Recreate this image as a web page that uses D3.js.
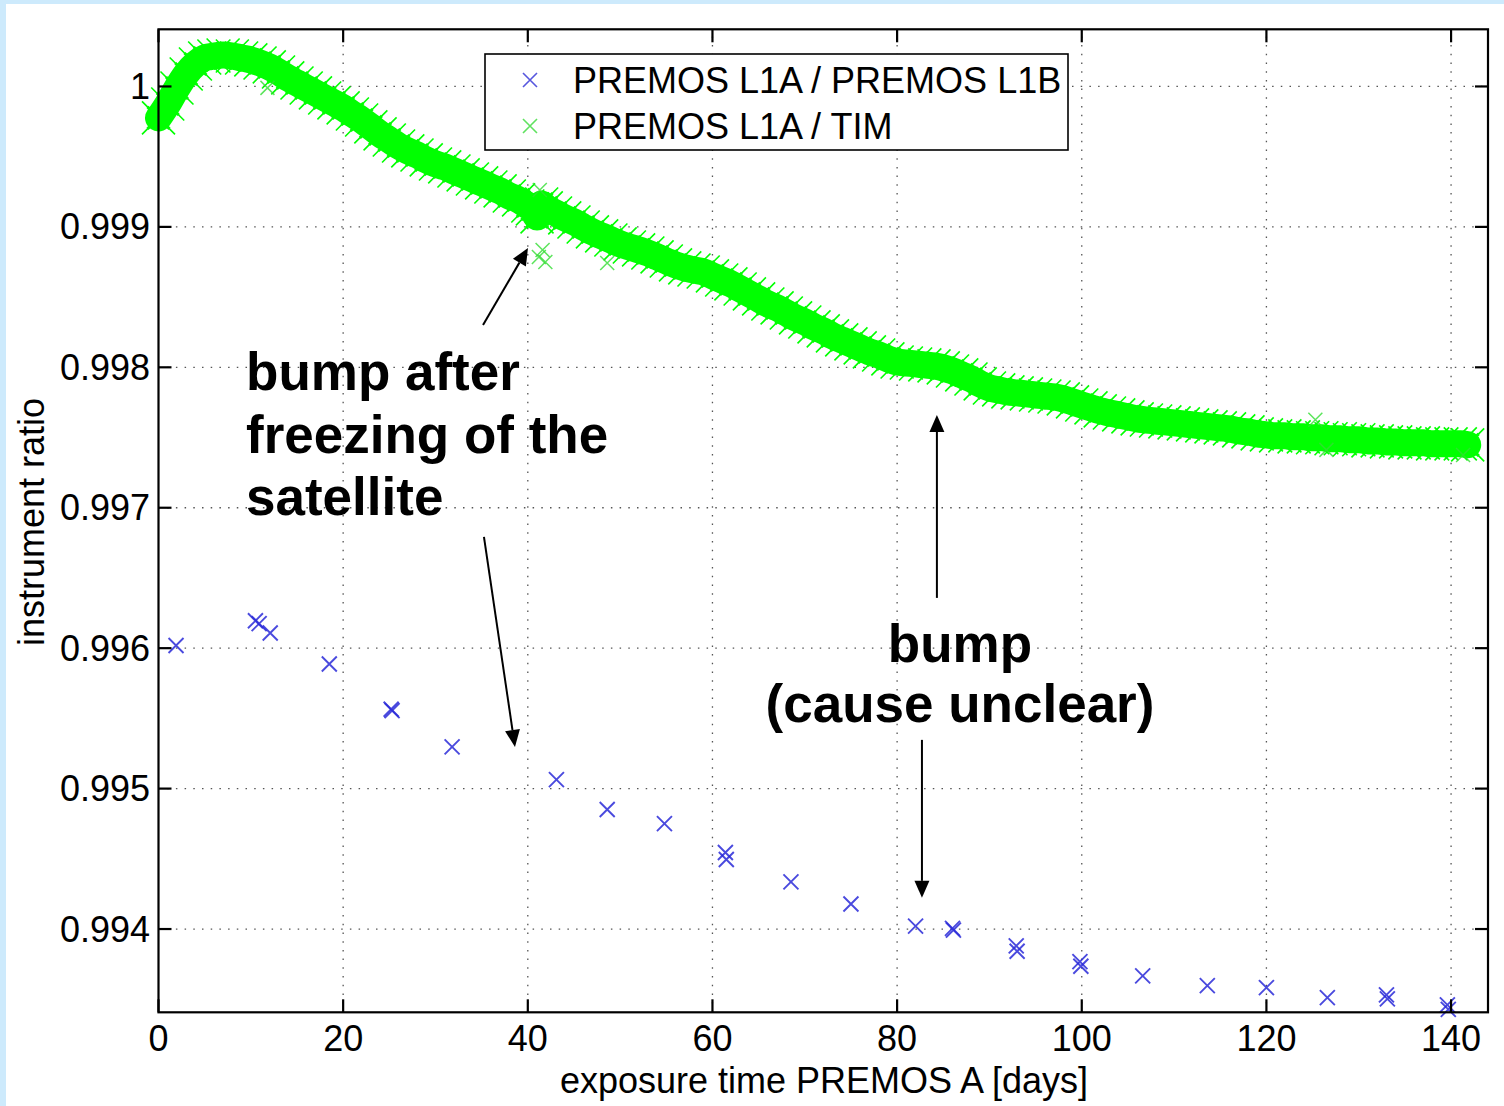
<!DOCTYPE html>
<html>
<head>
<meta charset="utf-8">
<script src="https://cdn.jsdelivr.net/npm/d3@7"></script>
<style>
  html, body { margin: 0; padding: 0; background: #cdeafc; }
  svg { display: block; }
  text { font-family: "Liberation Sans", Arial, Helvetica, sans-serif; }
</style>
</head>
<body>
<svg id="chart" width="1504" height="1106"></svg>
<script>
// ---------------- DATA ----------------
const xTicks = [0, 20, 40, 60, 80, 100, 120, 140];
const xTickLabels = ["0", "20", "40", "60", "80", "100", "120", "140"];
const yTicks = [0.994, 0.995, 0.996, 0.997, 0.998, 0.999, 1];
const yTickLabels = ["0.994", "0.995", "0.996", "0.997", "0.998", "0.999", "1"];

const seriesNames = ["PREMOS L1A / PREMOS L1B", "PREMOS L1A / TIM"];

// PREMOS L1A / PREMOS L1B (sparse blue crosses)
const l1bDays = [1.9, 10.5, 10.9, 12.1, 18.5, 25.2, 25.3, 31.8, 43.1, 48.6, 54.8, 61.4, 61.5,
  68.5, 75.0, 82.0, 86.0, 86.1, 92.9, 93.0, 99.8, 99.9, 106.6, 113.6, 120.0, 126.6,
  133.0, 133.1, 139.6, 139.7];
const l1bRatio = [0.996019, 0.996195, 0.996175, 0.996108, 0.995887, 0.995565, 0.995555,
  0.995297, 0.995064, 0.994851, 0.994751, 0.994545, 0.994495, 0.994336, 0.994178,
  0.994021, 0.994005, 0.993992, 0.993880, 0.993842, 0.993768, 0.993735, 0.993666,
  0.993597, 0.993583, 0.993512, 0.993531, 0.993503, 0.993460, 0.993428];

// PREMOS L1A / TIM (dense green band, centre of band read per day)
const timDays = [0,1,2,3,4,5,6,7,8,9,10,11,12,13,14,15,16,17,18,19,20,21,22,23,24,25,26,27,28,29,
  30,31,32,33,34,35,36,37,38,39,40,40.5,41,41.5,42,43,44,45,46,47,48,49,50,51,52,53,54,55,56,57,58,59,
  60,61,62,63,64,65,66,67,68,69,70,71,72,73,74,75,76,77,78,79,80,81,82,83,84,85,86,87,88,89,
  90,91,92,93,94,95,96,97,98,99,100,101,102,103,104,105,106,107,108,109,110,111,112,113,114,
  115,116,117,118,119,120,121,122,123,124,125,126,127,128,129,130,131,132,133,134,135,136,
  137,138,139,140,141,141.8];
const timRatio = [0.999776,0.999875,0.999989,1.000089,1.000160,1.000203,1.000217,1.000224,
  1.000217,1.000203,1.000189,1.000167,1.000139,1.000103,1.000061,1.000025,0.999989,0.999954,
  0.999918,0.999883,0.999847,0.999804,0.999761,0.999712,0.999662,0.999619,0.999576,0.999541,
  0.999512,0.999477,0.999448,0.999427,0.999398,0.999370,0.999341,0.999313,0.999284,0.999256,
  0.999220,0.999192,0.999149,0.999128,0.999071,0.999163,0.999135,0.999099,0.999064,0.999035,
  0.998999,0.998964,0.998936,0.998907,0.998879,0.998857,0.998836,0.998814,0.998786,0.998757,
  0.998729,0.998708,0.998693,0.998679,0.998651,0.998622,0.998594,0.998558,0.998523,0.998487,
  0.998451,0.998423,0.998387,0.998352,0.998323,0.998288,0.998259,0.998224,0.998195,0.998167,
  0.998138,0.998110,0.998088,0.998060,0.998038,0.998031,0.998024,0.998017,0.998010,0.997996,
  0.997974,0.997946,0.997917,0.997882,0.997853,0.997839,0.997825,0.997818,0.997811,0.997803,
  0.997796,0.997789,0.997775,0.997754,0.997732,0.997711,0.997690,0.997675,0.997661,0.997647,
  0.997633,0.997625,0.997618,0.997611,0.997604,0.997597,0.997590,0.997583,0.997576,0.997569,
  0.997562,0.997547,0.997540,0.997526,0.997519,0.997512,0.997512,0.997505,0.997505,0.997498,
  0.997498,0.997491,0.997491,0.997484,0.997484,0.997476,0.997476,0.997469,0.997469,0.997462,
  0.997462,0.997462,0.997455,0.997455,0.997455,0.997455,0.997448];
// isolated TIM-ratio crosses outside the band
const timOutDays = [11.8, 41.3, 41.2, 41.6, 41.9, 48.6, 125.3, 126.5, 141.3];
const timOutRatio = [0.999990, 0.999263, 0.998786, 0.998836, 0.998750, 0.998743, 0.997626, 0.997412, 0.997376];

// annotations (data coordinates)
const annoTexts = [
  { t: "bump after", x: 9.48, y: 0.997839, anchor: "start" },
  { t: "freezing of the", x: 9.48, y: 0.997391, anchor: "start" },
  { t: "satellite", x: 9.48, y: 0.996950, anchor: "start" },
  { t: "bump", x: 86.81, y: 0.995902, anchor: "middle" },
  { t: "(cause unclear)", x: 86.81, y: 0.995475, anchor: "middle" }
];
const annoArrows = [
  { x1: 35.15, y1: 0.998302, x2: 40.02, y2: 0.998850 },
  { x1: 35.25, y1: 0.996792, x2: 38.61, y2: 0.995297 },
  { x1: 84.31, y1: 0.996358, x2: 84.31, y2: 0.997661 },
  { x1: 82.69, y1: 0.995347, x2: 82.69, y2: 0.994222 }
];

// ---------------- DRAW ----------------
const W = 1504, H = 1106;
const L = 158.5, R = 1488, T = 29.3, B = 1012.3;
const svg = d3.select("#chart");

svg.append("rect").attr("x", 0).attr("y", 0).attr("width", W).attr("height", H).attr("fill", "#cdeafc");
svg.append("rect").attr("x", 6).attr("y", 4).attr("width", W - 6).attr("height", H - 4).attr("fill", "#ffffff");

const x = d3.scaleLinear().domain([0, 144]).range([L, R]);
const y = d3.scaleLinear().domain([0.993407, 1.000407]).range([B, T]);

// grid
const grid = svg.append("g").attr("stroke", "#555").attr("stroke-width", 1.3)
  .attr("stroke-dasharray", "1.5,7.2");
xTicks.slice(1).forEach(v => {
  grid.append("line").attr("x1", x(v)).attr("x2", x(v)).attr("y1", B).attr("y2", T);
});
yTicks.forEach(v => {
  grid.append("line").attr("x1", L).attr("x2", R).attr("y1", y(v)).attr("y2", y(v));
});

// green band
const green = "#00ff00";
const timPts = timDays.map((d, i) => [d, timRatio[i]]);
const line = d3.line().x(d => x(d[0])).y(d => y(d[1])).curve(d3.curveMonotoneX);
svg.append("path").attr("d", line(timPts)).attr("fill", "none")
  .attr("stroke", green).attr("stroke-width", 27)
  .attr("stroke-linecap", "round").attr("stroke-linejoin", "round");

function cross(g, cx, cy, s, color, sw, op) {
  g.append("path")
    .attr("d", `M${cx - s},${cy - s}L${cx + s},${cy + s}M${cx - s},${cy + s}L${cx + s},${cy - s}`)
    .attr("stroke", color).attr("stroke-width", sw).attr("fill", "none")
    .attr("opacity", op);
}
const gMarks = svg.append("g");
timPts.forEach(p => cross(gMarks, x(p[0]), y(p[1]), 16.5, green, 1.6, 1));
timPts.forEach(p => cross(gMarks, x(p[0]), y(p[1]), 11, green, 3, 1));
timOutDays.forEach((d, i) => cross(gMarks, x(d), y(timOutRatio[i]), 7, "#33dd33", 1.5, 0.8));

// blue crosses
const gBlue = svg.append("g");
l1bDays.forEach((d, i) => cross(gBlue, x(d), y(l1bRatio[i]), 7.5, "#2a2ad8", 1.9, 0.85));

// axes box
svg.append("rect").attr("x", L).attr("y", T).attr("width", R - L).attr("height", B - T)
  .attr("fill", "none").attr("stroke", "#000").attr("stroke-width", 2.2);

// ticks (inward on all four sides)
const tk = svg.append("g").attr("stroke", "#000").attr("stroke-width", 2.2);
const TL = 13;
xTicks.forEach(v => {
  tk.append("line").attr("x1", x(v)).attr("x2", x(v)).attr("y1", B).attr("y2", B - TL);
  tk.append("line").attr("x1", x(v)).attr("x2", x(v)).attr("y1", T).attr("y2", T + TL);
});
yTicks.forEach(v => {
  tk.append("line").attr("x1", L).attr("x2", L + TL).attr("y1", y(v)).attr("y2", y(v));
  tk.append("line").attr("x1", R).attr("x2", R - TL).attr("y1", y(v)).attr("y2", y(v));
});

// tick labels
const FS = 36;
xTicks.forEach((v, i) => {
  svg.append("text").attr("x", x(v)).attr("y", 1051).attr("text-anchor", "middle")
    .attr("font-size", FS).attr("fill", "#000").text(xTickLabels[i]);
});
yTicks.forEach((v, i) => {
  svg.append("text").attr("x", 150).attr("y", y(v) + 12.5).attr("text-anchor", "end")
    .attr("font-size", FS).attr("fill", "#000").text(yTickLabels[i]);
});

// axis titles
svg.append("text").attr("x", 824).attr("y", 1093).attr("text-anchor", "middle")
  .attr("font-size", FS).attr("fill", "#000").text("exposure time PREMOS A [days]");
svg.append("text").attr("transform", "translate(44,522) rotate(-90)").attr("text-anchor", "middle")
  .attr("font-size", FS).attr("fill", "#000").text("instrument ratio");

// legend
const lg = svg.append("g");
lg.append("rect").attr("x", 485).attr("y", 54).attr("width", 583).attr("height", 96)
  .attr("fill", "#fff").attr("stroke", "#000").attr("stroke-width", 1.6);
cross(lg, 530, 80, 7, "#3a3ad8", 1.6, 0.85);
cross(lg, 530, 126, 7, "#44dd44", 1.6, 0.85);
lg.append("text").attr("x", 573).attr("y", 93).attr("font-size", FS).attr("fill", "#000").text(seriesNames[0]);
lg.append("text").attr("x", 573).attr("y", 139).attr("font-size", FS).attr("fill", "#000").text(seriesNames[1]);

// annotations
annoTexts.forEach(a => {
  svg.append("text").attr("x", x(a.x)).attr("y", y(a.y)).attr("text-anchor", a.anchor)
    .attr("font-size", 53).attr("font-weight", "bold").attr("fill", "#000").text(a.t);
});
annoArrows.forEach(a => {
  const x1 = x(a.x1), y1 = y(a.y1), x2 = x(a.x2), y2 = y(a.y2);
  const ang = Math.atan2(y2 - y1, x2 - x1);
  const hl = 17, hw = 7.5;
  const bx = x2 - hl * Math.cos(ang), by = y2 - hl * Math.sin(ang);
  svg.append("line").attr("x1", x1).attr("y1", y1).attr("x2", bx).attr("y2", by)
    .attr("stroke", "#000").attr("stroke-width", 2);
  const px = -Math.sin(ang), py = Math.cos(ang);
  svg.append("path")
    .attr("d", `M${x2},${y2}L${bx + px * hw},${by + py * hw}L${bx - px * hw},${by - py * hw}Z`)
    .attr("fill", "#000");
});
</script>
</body>
</html>
